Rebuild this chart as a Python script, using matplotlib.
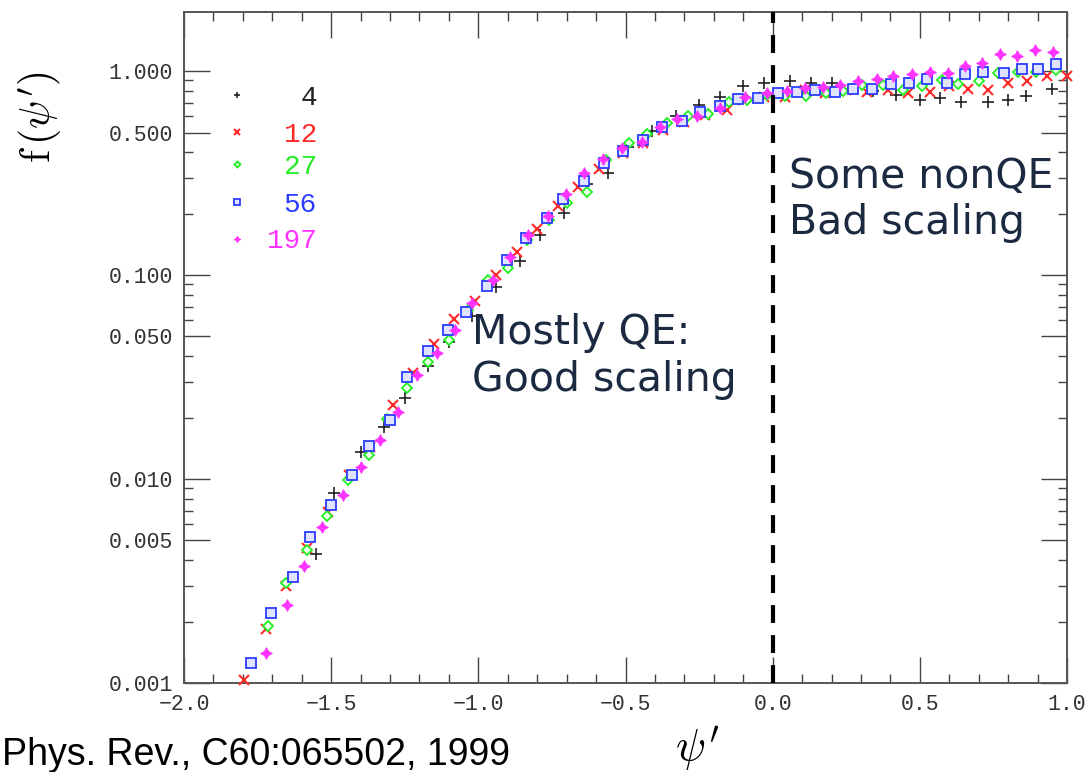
import numpy as np
import matplotlib
matplotlib.use('Agg')
import matplotlib.pyplot as plt
from matplotlib.ticker import FixedLocator, NullFormatter, MultipleLocator

# mass numbers (legend labels)
labels = ['4', '12', '27', '56', '197']

# A = 4
x4 = [-1.55, -1.49, -1.40, -1.32, -1.25, -1.17, -1.10, -1.02, -0.94, -0.86, -0.79, -0.71,
      -0.63, -0.56, -0.49, -0.41, -0.33, -0.25, -0.18, -0.10, -0.03, 0.06, 0.13, 0.20,
      0.27, 0.34, 0.42, 0.50, 0.57, 0.64, 0.73, 0.80, 0.86, 0.95]
y4 = [0.0043, 0.0085, 0.0136, 0.018, 0.025, 0.036, 0.047, 0.063, 0.087, 0.117, 0.157, 0.201,
      0.281, 0.315, 0.423, 0.508, 0.60, 0.681, 0.748, 0.844, 0.877, 0.896, 0.877, 0.877,
      0.82, 0.80, 0.763, 0.721, 0.74, 0.703, 0.703, 0.72, 0.754, 0.813]

# A = 12
x12 = [-1.795, -1.722, -1.653, -1.583, -1.510, -1.439, -1.367, -1.291, -1.221, -1.151,
       -1.083, -1.011, -0.940, -0.870, -0.800, -0.728, -0.662, -0.589, -0.510, -0.439,
       -0.371, -0.30, -0.23, -0.156, -0.10, -0.03, 0.042, 0.11, 0.178, 0.25,
       0.319, 0.393, 0.461, 0.535, 0.60, 0.665, 0.733, 0.801, 0.863, 0.931, 1.00]
y12 = [0.00103, 0.00184, 0.0030, 0.0046, 0.0069, 0.0105, 0.0144, 0.0231, 0.033, 0.0459,
       0.0607, 0.0748, 0.100, 0.130, 0.168, 0.218, 0.269, 0.333, 0.395, 0.442,
       0.514, 0.564, 0.61, 0.644, 0.72, 0.75, 0.748, 0.807, 0.778, 0.807,
       0.79, 0.807, 0.778, 0.79, 0.842, 0.813, 0.807, 0.877, 0.89, 0.944, 0.944]

# A = 27
x27 = [-1.713, -1.652, -1.583, -1.513, -1.442, -1.370, -1.311, -1.243, -1.170, -1.100,
       -1.034, -0.968, -0.898, -0.834, -0.760, -0.700, -0.632, -0.566, -0.487, -0.428,
       -0.358, -0.287, -0.219, -0.149, -0.088, -0.02, 0.042, 0.113, 0.18, 0.24,
       0.302, 0.376, 0.444, 0.506, 0.574, 0.631, 0.702, 0.767, 0.833, 0.895, 0.963]
y27 = [0.0019, 0.0031, 0.0045, 0.0066, 0.0099, 0.0131, 0.0198, 0.0278, 0.0376, 0.048,
       0.0674, 0.0945, 0.108, 0.148, 0.186, 0.226, 0.256, 0.366, 0.442, 0.491,
       0.554, 0.601, 0.617, 0.707, 0.72, 0.76, 0.754, 0.754, 0.78, 0.80,
       0.853, 0.853, 0.807, 0.842, 0.904, 0.868, 0.89, 0.975, 0.994, 0.994, 1.01]

# A = 56
x56 = [-1.773, -1.704, -1.631, -1.571, -1.500, -1.430, -1.371, -1.300, -1.241, -1.172,
       -1.102, -1.042, -0.972, -0.903, -0.839, -0.768, -0.711, -0.641, -0.573, -0.510,
       -0.441, -0.377, -0.309, -0.247, -0.179, -0.119, -0.049, 0.019, 0.084, 0.144,
       0.212, 0.274, 0.336, 0.402, 0.464, 0.523, 0.591, 0.654, 0.714, 0.787,
       0.846, 0.903, 0.963]
y56 = [0.00125, 0.0022, 0.0033, 0.0052, 0.0075, 0.0105, 0.0145, 0.0195, 0.0315, 0.0424,
       0.0537, 0.066, 0.0883, 0.1185, 0.152, 0.190, 0.237, 0.289, 0.353, 0.407,
       0.459, 0.533, 0.569, 0.627, 0.676, 0.726, 0.735, 0.778, 0.787, 0.807,
       0.787, 0.813, 0.813, 0.860, 0.877, 0.911, 0.877, 0.964, 0.986, 0.98,
       1.02, 1.02, 1.08]

# A = 197
x197 = [-1.722, -1.651, -1.591, -1.530, -1.461, -1.400, -1.335, -1.272, -1.209, -1.141,
        -1.079, -1.022, -0.949, -0.892, -0.830, -0.765, -0.702, -0.641, -0.577, -0.513,
        -0.445, -0.383, -0.326, -0.258, -0.18, -0.094, -0.02, 0.048, 0.11, 0.17,
        0.229, 0.291, 0.353, 0.410, 0.472, 0.535, 0.597, 0.654, 0.710, 0.772,
        0.829, 0.891, 0.953]
y197 = [0.00141, 0.00241, 0.00375, 0.00584, 0.00835, 0.0115, 0.0155, 0.0214, 0.0324, 0.0413,
        0.0537, 0.0732, 0.0945, 0.123, 0.157, 0.195, 0.251, 0.315, 0.369, 0.418,
        0.450, 0.533, 0.580, 0.60, 0.66, 0.748, 0.778, 0.80, 0.822, 0.84,
        0.853, 0.89, 0.911, 0.944, 0.964, 0.994, 0.975, 1.058, 1.10, 1.22,
        1.185, 1.27, 1.24]

ytick_vals = [0.001, 0.005, 0.010, 0.050, 0.100, 0.500, 1.000]
ytick_labels = ['0.001', '0.005', '0.010', '0.050', '0.100', '0.500', '1.000']

series = [
    (x4, y4, '#222222', dict(marker='+', ms=9, mew=1.2, mfc='none')),
    (x12, y12, '#ff2a2a', dict(marker='x', ms=7.5, mew=1.5, mfc='none')),
    (x27, y27, '#22ee22', dict(marker='D', ms=5.5, mew=1.3, mfc='#e8ffe8')),
    (x56, y56, '#2b3cff', dict(marker='s', ms=7, mew=1.3, mfc='#dfe3ff')),
    (x197, y197, '#ff33ff', dict(marker=(4, 1, 0), ms=8.5, mew=0.6, mfc='#ff33ff')),
]

fig = plt.figure(figsize=(10.87, 7.72), dpi=100)
ax = fig.add_axes([0.1693, 0.1153, 0.8123, 0.8692])

for xs, ys, col, st in series:
    ax.plot(xs, ys, ls='none', color=col, mec=col, clip_on=False, zorder=3, **st)

ax.set_yscale('log')
ax.set_xlim(-2.0, 1.0)
ax.set_ylim(0.001, 1.95)

# ticks like the old plotting package: inward, on all sides
ax.xaxis.set_major_locator(MultipleLocator(0.5))
ax.xaxis.set_minor_locator(MultipleLocator(0.1))
ax.xaxis.set_major_formatter(plt.FuncFormatter(lambda v, p: ('%.1f' % v).replace('-', '\u2212')))
ax.yaxis.set_major_locator(FixedLocator(ytick_vals))
ax.set_yticklabels(ytick_labels)
ax.yaxis.set_minor_locator(FixedLocator([m * 10.0 ** e for e in (-3, -2, -1, 0)
                                         for m in (2, 3, 4, 6, 7, 8, 9)]))
ax.yaxis.set_minor_formatter(NullFormatter())
ax.tick_params(which='both', direction='in', top=True, right=True, color='#444444', width=1.0)
ax.tick_params(which='major', length=19, pad=8, labelsize=15.5, labelcolor='#333333')
ax.tick_params(which='minor', length=6.5)
for lab in ax.get_xticklabels() + ax.get_yticklabels():
    lab.set_family('Liberation Mono')
for sp in ax.spines.values():
    sp.set_color('#555555')
    sp.set_linewidth(1.4)

# dashed boundary at psi' = 0
ax.axvline(0.0, color='black', lw=3, dashes=(4.3, 2.9), zorder=4)

# legend drawn by hand: small marker, right-aligned coloured number
leg_y = [0.876, 0.821, 0.773, 0.717, 0.662]
for (xs, ys, col, st), lab, yy in zip(series, labels, leg_y):
    small = dict(st)
    small['ms'] = st['ms'] * 0.55
    ax.plot([0.060], [yy], transform=ax.transAxes, ls='none', color=col, mec=col, **small)
    ax.text(0.1505, yy - 0.004, lab, transform=ax.transAxes, ha='right', va='center',
            color=col, fontsize=20, family='Liberation Mono')

navy = '#1b2a41'
ax.text(-1.022, 0.0245, 'Mostly QE:\nGood scaling', color=navy, fontsize=29.5,
        family='DejaVu Sans', ha='left', va='bottom', linespacing=1.22)
ax.text(0.055, 0.143, 'Some nonQE\nBad scaling', color=navy, fontsize=29.5,
        family='DejaVu Sans', ha='left', va='bottom', linespacing=1.22)

fig.text(0.037, 0.848, r"$\mathrm{f}\,(\psi')$", rotation=90, ha='center', va='center',
         fontsize=30, math_fontfamily='cm')
fig.text(0.641, 0.030, r"$\psi'$", ha='center', va='center', fontsize=32,
         math_fontfamily='cm')
fig.text(0.002, 0.009, 'Phys. Rev., C60:065502, 1999', ha='left', va='baseline',
         fontsize=27, family='Liberation Sans', color='black')

fig.savefig('out.png', dpi=100)
